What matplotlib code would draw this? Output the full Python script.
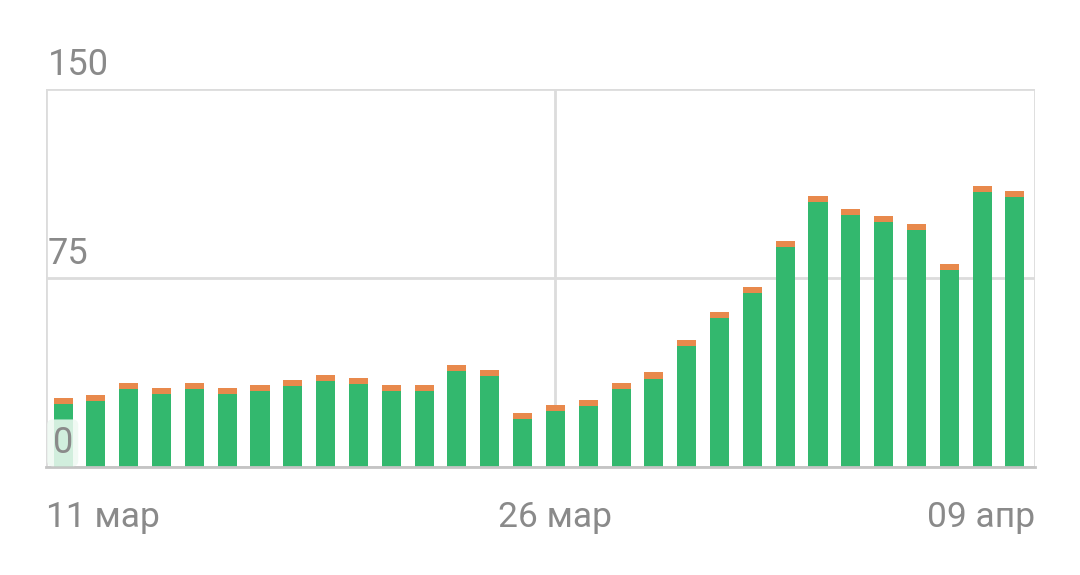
import numpy as np
import matplotlib.pyplot as plt

# daily values, 11 мар .. 09 апр
green = [25, 26, 31, 29, 31, 29, 30, 32, 34, 33, 30, 30, 38, 36, 19,
         22, 24, 31, 35, 48, 59, 69, 87, 105, 100, 97, 94, 78, 109, 107]
orange = [2.4] * 30
date_labels = ['11 мар', '26 мар', '09 апр']
date_pos = [0, 15, 29]
y_ticks = [0, 75, 150]

GREEN = '#33b86e'
ORANGE = '#e8894c'
GRID = '#dcdcdc'
TEXT = '#8a8a8a'

plt.rcParams['font.family'] = ['Roboto', 'DejaVu Sans']

fig = plt.figure(figsize=(10.8, 5.75), dpi=100)
ax = fig.add_axes([0.0426, 0.1883, 0.9157, 0.6574])

x = np.arange(len(green))
ax.bar(x, green, width=0.58, color=GREEN, zorder=3)
ax.bar(x, orange, width=0.58, bottom=green, color=ORANGE, zorder=3)

x0, x1 = -0.52, 29.61
ax.set_xlim(x0, x1)
ax.set_ylim(0, 150)

for s in ['top', 'left', 'right']:
    ax.spines[s].set_visible(False)
ax.spines['bottom'].set_color('#c4c4c4')
ax.spines['bottom'].set_linewidth(2)
ax.spines['bottom'].set_zorder(4)

# vertical grid at the outer edges and at the middle date
ax.set_xticks([x0, date_pos[1], x1])
ax.set_xticklabels(date_labels, fontsize=25.5, color=TEXT)
labs = ax.get_xticklabels()
labs[0].set_ha('left')
labs[1].set_ha('center')
labs[2].set_ha('right')
ax.set_yticks(y_ticks)
ax.set_yticklabels([])
ax.tick_params(length=0, pad=25)
ax.grid(True, color=GRID, linewidth=2, zorder=0)

for v in y_ticks:
    xo = x0 + (0.2 if v == 0 else 0.06)
    t = ax.text(xo, v + 5.5, str(v), fontsize=26, color=TEXT,
                va='baseline', ha='left', zorder=5)
    if v == 0:
        t.set_bbox(dict(boxstyle='round,pad=0.15', facecolor='#eef8f2',
                        edgecolor='none', alpha=0.85))

fig.savefig('out.png', dpi=100)
